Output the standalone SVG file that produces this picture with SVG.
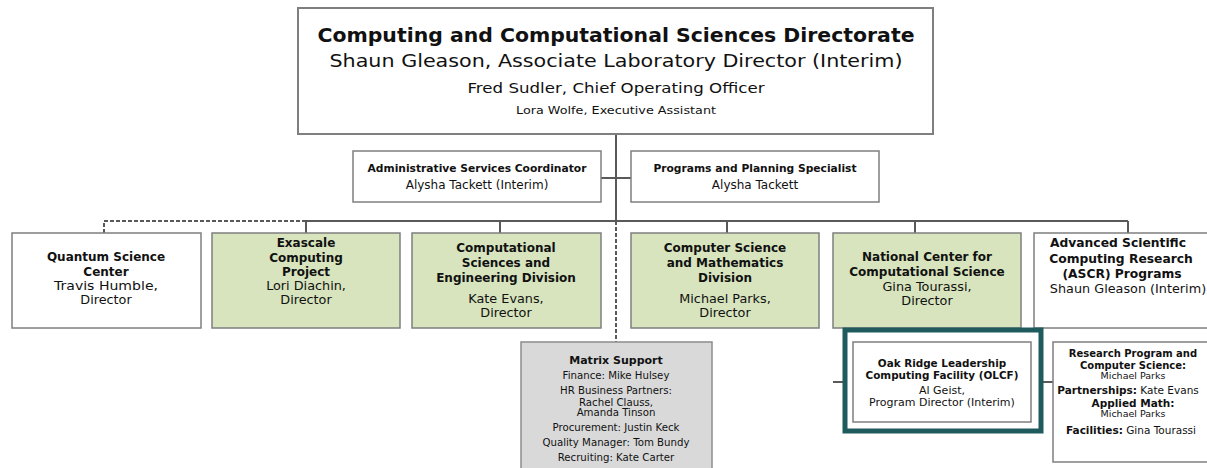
<svg xmlns="http://www.w3.org/2000/svg" width="1207" height="468" viewBox="0 0 1207 468">
<style>
text{font-family:"DejaVu Sans","Liberation Sans",sans-serif;fill:#111;text-anchor:middle}
.b{font-weight:bold}
.box{fill:#fff;stroke:#7f7f7f;stroke-width:1.5}
.g{fill:#d7e4bd;stroke:#7f7f7f;stroke-width:1.5}
.m{fill:#d9d9d9;stroke:#8c8c8c;stroke-width:1.5}
.ln{stroke:#595959;stroke-width:2;fill:none}
.d{stroke:#595959;stroke-width:2;fill:none;stroke-dasharray:4 2}
.t1{font-size:12px}
.r1{font-size:12.8px}
.s{font-size:10.2px}
</style>
<g id="connectors">
<path class="ln" d="M616 134V221M306 221H1128M306 221V233M500 221V233M727 221V233M915 221V233M1128 221V233M601 178H631"/>
<path class="d" d="M306 221H104V233M616 221V342"/>
<path class="ln" d="M833 382H853M1031 382H1053"/>
</g>
<g id="directorate">
<rect class="box" x="298" y="8" width="635" height="126" style="stroke-width:2"/>
<text class="b" x="616" y="42" style="font-size:20px" textLength="597" lengthAdjust="spacingAndGlyphs">Computing and Computational Sciences Directorate</text>
<text x="616" y="66.5" style="font-size:18.5px" textLength="573" lengthAdjust="spacingAndGlyphs">Shaun Gleason, Associate Laboratory Director (Interim)</text>
<text x="616" y="93" style="font-size:14.5px" textLength="297" lengthAdjust="spacingAndGlyphs">Fred Sudler, Chief Operating Officer</text>
<text x="616" y="114" style="font-size:11px" textLength="200" lengthAdjust="spacingAndGlyphs">Lora Wolfe, Executive Assistant</text>
</g>
<g id="admin">
<rect class="box" x="353" y="151" width="248" height="51"/>
<text class="b" x="477" y="172" style="font-size:10.7px">Administrative Services Coordinator</text>
<text x="477" y="188.5" style="font-size:12px">Alysha Tackett (Interim)</text>
</g>
<g id="programs">
<rect class="box" x="631" y="151" width="248" height="51"/>
<text class="b" x="755" y="172" style="font-size:10.7px">Programs and Planning Specialist</text>
<text x="755" y="188.5" style="font-size:12px">Alysha Tackett</text>
</g>
<g id="quantum">
<rect class="box" x="12" y="233" width="189" height="95"/>
<text class="b t1" x="106" y="261">Quantum Science</text>
<text class="b t1" x="106" y="275.5">Center</text>
<text class="r1" x="106" y="289.5" textLength="104" lengthAdjust="spacingAndGlyphs">Travis Humble,</text>
<text class="r1" x="106" y="303.5">Director</text>
</g>
<g id="exascale">
<rect class="g" x="212" y="233" width="188" height="95"/>
<text class="b t1" x="306" y="247">Exascale</text>
<text class="b t1" x="306" y="261.5">Computing</text>
<text class="b t1" x="306" y="275.5">Project</text>
<text class="r1" x="306" y="289.5">Lori Diachin,</text>
<text class="r1" x="306" y="303.5">Director</text>
</g>
<g id="csed">
<rect class="g" x="412" y="233" width="189" height="95"/>
<text class="b t1" x="506" y="252">Computational</text>
<text class="b t1" x="506" y="267">Sciences and</text>
<text class="b t1" x="506" y="282">Engineering Division</text>
<text class="r1" x="506" y="302.5">Kate Evans,</text>
<text class="r1" x="506" y="316.5">Director</text>
</g>
<g id="csmd">
<rect class="g" x="631" y="233" width="188" height="95"/>
<text class="b t1" x="725" y="252">Computer Science</text>
<text class="b t1" x="725" y="267">and Mathematics</text>
<text class="b t1" x="725" y="282">Division</text>
<text class="r1" x="725" y="302.5">Michael Parks,</text>
<text class="r1" x="725" y="316.5">Director</text>
</g>
<g id="nccs">
<rect class="g" x="833" y="233" width="188" height="95"/>
<text class="b t1" x="927" y="261">National Center for</text>
<text class="b t1" x="927" y="276">Computational Science</text>
<text class="r1" x="927" y="290.5">Gina Tourassi,</text>
<text class="r1" x="927" y="304.5">Director</text>
</g>
<g id="ascr">
<rect class="box" x="1034" y="233" width="190" height="95"/>
<text class="b" x="1118" y="246.5" style="font-size:12.3px">Advanced Scientific</text>
<text class="b" x="1121" y="262.5" style="font-size:12.3px">Computing Research</text>
<text class="b" x="1122" y="277.5" style="font-size:12.3px">(ASCR) Programs</text>
<text class="r1" x="1128" y="293">Shaun Gleason (Interim)</text>
</g>
<g id="matrix">
<rect class="m" x="521" y="342" width="191" height="140"/>
<text class="b" x="616" y="364" style="font-size:11px">Matrix Support</text>
<text class="s" x="616" y="378.5">Finance: Mike Hulsey</text>
<text class="s" x="616" y="393.5">HR Business Partners:</text>
<text class="s" x="616" y="405.5">Rachel Clauss,</text>
<text class="s" x="616" y="416">Amanda Tinson</text>
<text class="s" x="616" y="430.5">Procurement: Justin Keck</text>
<text class="s" x="616" y="445.5">Quality Manager: Tom Bundy</text>
<text class="s" x="616" y="460.5">Recruiting: Kate Carter</text>
</g>
<g id="olcf">
<rect x="845" y="330" width="196" height="101" fill="#fff" stroke="#1f5a5c" stroke-width="5"/>
<rect class="box" x="853" y="342" width="178" height="80"/>
<text class="b" x="942" y="366.5" style="font-size:10.4px">Oak Ridge Leadership</text>
<text class="b" x="942" y="378.5" style="font-size:10.4px">Computing Facility (OLCF)</text>
<text x="942" y="394" style="font-size:11px">Al Geist,</text>
<text x="942" y="406" style="font-size:11px">Program Director (Interim)</text>
</g>
<g id="research">
<rect class="box" x="1053" y="342" width="162" height="120"/>
<text class="b" x="1133" y="356.5" style="font-size:10px">Research Program and</text>
<text class="b" x="1133" y="368.5" style="font-size:10px">Computer Science:</text>
<text x="1133" y="378.5" style="font-size:9.5px">Michael Parks</text>
<text x="1128" y="394" style="font-size:10.5px"><tspan font-weight="bold">Partnerships:</tspan> Kate Evans</text>
<text class="b" x="1133" y="407" style="font-size:10.5px">Applied Math:</text>
<text x="1133" y="416.5" style="font-size:9.5px">Michael Parks</text>
<text x="1131" y="434" style="font-size:10.5px"><tspan font-weight="bold">Facilities:</tspan> Gina Tourassi</text>
</g>
</svg>
